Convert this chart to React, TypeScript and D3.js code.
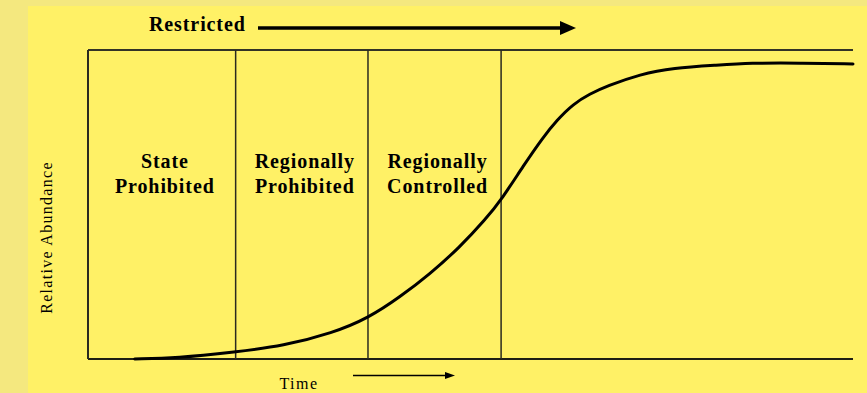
import React from 'react';
import * as d3 from 'd3';

// time (arbitrary units, 0-100) and relative abundance (0-100)
const timeValues = [6.1, 11.6, 19.3, 25.5, 32.0, 36.7, 40.8, 44.7, 48.6, 51.9, 54.2, 56.9, 59.5, 61.3, 63.4, 65.6, 67.8, 72.2, 76.5, 82.2, 86.5, 93.1, 100];
const abundance = [0, 0.3, 2.3, 4.2, 8.4, 13.3, 20.1, 27.5, 36.2, 45.0, 52.1, 62.5, 71.8, 77.3, 82.5, 85.8, 88.3, 92.2, 94.2, 95.1, 95.8, 95.8, 95.5];

// phase boundaries (time units) and labels
const phaseStarts = [0, 19.3, 36.6, 54.0];
const phaseLabels = [
  ['State', 'Prohibited'],
  ['Regionally', 'Prohibited'],
  ['Regionally', 'Controlled'],
];

const width = 867;
const height = 393;
const margin = { top: 50, right: 14, bottom: 34, left: 88 };
const innerWidth = width - margin.left - margin.right;
const innerHeight = height - margin.top - margin.bottom;

const serif = '"Liberation Serif", "Times New Roman", serif';

export default function App() {
  const x = d3.scaleLinear().domain([0, 100]).range([0, innerWidth]);
  const y = d3.scaleLinear().domain([0, 100]).range([innerHeight, 0]);

  const points = timeValues.map((t, i) => [t, abundance[i]] as [number, number]);
  // basis smooths the hand-read points into one S-curve
  const curve = d3
    .line<[number, number]>()
    .x(d => x(d[0]))
    .y(d => y(d[1]))
    .curve(d3.curveBasis)(points);

  return (
    <svg
      width={width}
      height={height}
      style={{ position: 'absolute', left: 0, top: 0, display: 'block' }}
    >
      <defs>
        <marker id="bigHead" viewBox="0 0 16 14" refX="2" refY="7" markerWidth="16" markerHeight="14" markerUnits="userSpaceOnUse" orient="auto">
          <path d="M0,0 L16,7 L0,14 Z" fill="#000" />
        </marker>
        <marker id="smallHead" viewBox="0 0 10 7" refX="1" refY="3.5" markerWidth="10" markerHeight="7" markerUnits="userSpaceOnUse" orient="auto">
          <path d="M0,0 L10,3.5 L0,7 Z" fill="#000" />
        </marker>
      </defs>

      {/* background */}
      <rect width={width} height={height} fill="#f4e87f" />
      <rect x={28} y={6} width={width - 28} height={height - 6} fill="#fff166" />

      {/* Restricted arrow */}
      <text x={149} y={31} fontFamily={serif} fontWeight="bold" fontSize={20} letterSpacing={0.9} fill="#000">
        Restricted
      </text>
      <line x1={258} x2={562} y1={28} y2={28} stroke="#000" strokeWidth={3.5} markerEnd="url(#bigHead)" />

      {/* y label */}
      <text
        transform={`translate(52,${margin.top + innerHeight / 2 + 33}) rotate(-90)`}
        textAnchor="middle"
        fontFamily={serif}
        fontSize={16}
        letterSpacing={1.3}
        fill="#000"
      >
        Relative Abundance
      </text>

      <g transform={`translate(${margin.left},${margin.top})`}>
        {/* frame */}
        <line x1={0} x2={innerWidth} y1={0} y2={0} stroke="#333326" strokeWidth={2} />
        <line x1={0} x2={innerWidth} y1={innerHeight} y2={innerHeight} stroke="#1e1e14" strokeWidth={2} />
        {phaseStarts.map((t, i) => (
          <line
            key={t}
            x1={x(t)}
            x2={x(t)}
            y1={0}
            y2={innerHeight}
            stroke="#2a2a20"
            strokeWidth={i === 0 ? 2 : 1.5}
          />
        ))}

        {/* phase labels */}
        {phaseLabels.map((lines, i) => {
          const cx = (x(phaseStarts[i]) + x(phaseStarts[i + 1])) / 2 + 3;
          return (
            <text
              key={i}
              textAnchor="middle"
              fontFamily={serif}
              fontWeight="bold"
              fontSize={20}
              letterSpacing={0.9}
              fill="#000"
            >
              {lines.map((l, j) => (
                <tspan key={j} x={cx} y={118 + j * 25}>
                  {l}
                </tspan>
              ))}
            </text>
          );
        })}

        {/* curve */}
        <path d={curve ?? ''} fill="none" stroke="#000" strokeWidth={3} strokeLinecap="round" strokeLinejoin="round" />
      </g>

      {/* x label */}
      <text x={299} y={389} textAnchor="middle" fontFamily={serif} fontSize={16} letterSpacing={1.5} fill="#000">
        Time
      </text>
      <line x1={353} x2={446} y1={375.5} y2={375.5} stroke="#000" strokeWidth={1.6} markerEnd="url(#smallHead)" />
    </svg>
  );
}
